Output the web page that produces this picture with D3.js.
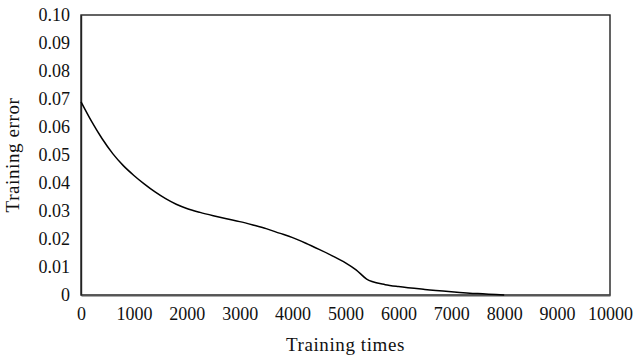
<!DOCTYPE html>
<html>
<head>
<meta charset="utf-8">
<script src="https://cdn.jsdelivr.net/npm/d3@7"></script>
<style>
  body { margin: 0; background: #fff; }
  svg text { font-family: "Liberation Serif", "DejaVu Serif", serif; font-size: 18px; fill: #111; }
  svg text.title { font-size: 19px; letter-spacing: 0.6px; }
</style>
</head>
<body>
<svg class="chart" width="635" height="362"></svg>
<script>
// values
var iterations = [0, 200, 400, 600, 800, 1000, 1200, 1400, 1600, 1800, 2000, 2250, 2500, 2750,
  3000, 3250, 3500, 3750, 4000, 4250, 4500, 4750, 5000, 5200, 5400, 5500, 5750, 6000,
  6500, 7000, 7500, 8000];
var trainingError = [0.0690, 0.0620, 0.0558, 0.0505, 0.0462, 0.0427, 0.0396, 0.0368, 0.0344,
  0.0324, 0.0309, 0.0295, 0.0283, 0.0272, 0.0262, 0.0250, 0.0237, 0.0221, 0.0205, 0.0185,
  0.0163, 0.0140, 0.0115, 0.0090, 0.0057, 0.0048, 0.0037, 0.0030, 0.0020, 0.0012, 0.0005, 0];
var xTicks = [0, 1000, 2000, 3000, 4000, 5000, 6000, 7000, 8000, 9000, 10000];
var yTicks = [0, 0.01, 0.02, 0.03, 0.04, 0.05, 0.06, 0.07, 0.08, 0.09, 0.10];
var yTickLabels = ['0', '0.01', '0.02', '0.03', '0.04', '0.05', '0.06', '0.07', '0.08', '0.09', '0.10'];

var chart = d3.select('.chart');
var plotLeft = 81, plotRight = 610, plotTop = 15, plotBottom = 295;

var x = d3.scaleLinear().domain([0, 10000]).range([plotLeft, plotRight]);
var y = d3.scaleLinear().domain([0, 0.1]).range([plotBottom, plotTop]);

var points = iterations.map((d, i) => [d, trainingError[i]]);

//frame around the plot
chart.append('rect')
  .attr('x', plotLeft).attr('y', plotTop)
  .attr('width', plotRight - plotLeft).attr('height', plotBottom - plotTop)
  .attr('fill', 'none')
  .attr('stroke', '#222')
  .attr('stroke-width', 1.4);

//x axis without tick marks
var xAxis = chart.append('g')
  .attr('transform', 'translate(0,' + plotBottom + ')')
  .call(d3.axisBottom(x).tickValues(xTicks).tickSize(0).tickPadding(0).tickFormat(d3.format('d')));
xAxis.select('.domain').attr('stroke', '#555').attr('stroke-width', 2);
xAxis.selectAll('text').attr('dy', null).attr('y', 25);

//y axis
var yAxis = chart.append('g')
  .attr('transform', 'translate(' + plotLeft + ',0)')
  .call(d3.axisLeft(y).tickValues(yTicks).tickSize(0).tickPadding(11)
    .tickFormat((d, i) => yTickLabels[i]));
yAxis.select('.domain').attr('stroke', '#222').attr('stroke-width', 1.4);
yAxis.selectAll('text').attr('dy', '0.32em');
chart.selectAll('g[font-family]').attr('font-family', null).attr('font-size', null);
chart.selectAll('.tick text').attr('fill', null);

//the training error curve
var line = d3.line()
  .x(d => x(d[0]))
  .y(d => y(d[1]))
  .curve(d3.curveMonotoneX);

chart.append('path')
  .datum(points)
  .attr('d', line)
  .attr('fill', 'none')
  .attr('stroke', '#000')
  .attr('stroke-width', 1.5);

//axis titles
chart.append('text')
  .attr('class', 'title')
  .attr('x', (plotLeft + plotRight) / 2)
  .attr('y', 351)
  .attr('text-anchor', 'middle')
  .text('Training times');

chart.append('text')
  .attr('class', 'title')
  .attr('transform', 'translate(19,' + (plotTop + plotBottom) / 2 + ') rotate(-90)')
  .attr('text-anchor', 'middle')
  .text('Training error');
</script>
</body>
</html>
